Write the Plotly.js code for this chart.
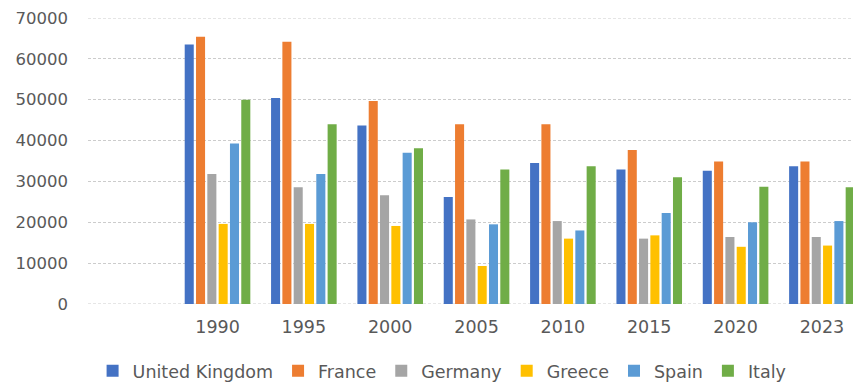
<!DOCTYPE html>
<html>
<head>
<meta charset="utf-8">
<script src="https://cdn.plot.ly/plotly-3.0.1.min.js"></script>
<style>
  html, body { margin: 0; padding: 0; background: #fff; overflow: hidden; }
  #chart { width: 853px; height: 384px; }
</style>
</head>
<body>
<div id="chart"></div>
<script>
// Years shown on the category axis
const years = ['1990', '1995', '2000', '2005', '2010', '2015', '2020', '2023'];

// Values per country, one entry per year
const unitedKingdom = [63500, 50400, 43700, 26200, 34500, 32900, 32600, 33700];
const france        = [65400, 64200, 49700, 44000, 44000, 37700, 34900, 34900];
const germany       = [31800, 28600, 26600, 20700, 20300, 16000, 16400, 16400];
const greece        = [19600, 19600, 19100,  9300, 16000, 16800, 14000, 14300];
const spain         = [39300, 31800, 37000, 19500, 18000, 22300, 20000, 20300];
const italy         = [50000, 44000, 38100, 32900, 33700, 31000, 28700, 28600];

// Y axis ticks
const yTicks = [0, 10000, 20000, 30000, 40000, 50000, 60000, 70000];

const series = [
  { name: 'United Kingdom', values: unitedKingdom, color: '#4472C4' },
  { name: 'France',         values: france,        color: '#ED7D31' },
  { name: 'Germany',        values: germany,       color: '#A5A5A5' },
  { name: 'Greece',         values: greece,        color: '#FFC000' },
  { name: 'Spain',          values: spain,         color: '#5B9BD5' },
  { name: 'Italy',          values: italy,         color: '#70AD47' }
];

const textColor = '#595959';
const fontFamily = 'DejaVu Sans, Verdana, sans-serif';
const gridColor = '#cccccc';
const gridDash = '3px,2px';

const traces = series.map(s => ({
  type: 'bar',
  name: s.name,
  x: years,
  y: s.values,
  marker: { color: s.color, line: { width: 0 } },
  hoverinfo: 'x+y+name'
}));

// Plotly skips grid lines that sit on the plot edges, so draw the
// bottom and top ones as shapes in the same dashed style.
const yMin = yTicks[0];
const yMax = yTicks[yTicks.length - 1];
const edgeLines = [yMin, yMax].map(v => ({
  type: 'line',
  xref: 'paper', x0: 0, x1: 1,
  yref: 'y', y0: v, y1: v,
  layer: 'below',
  line: { color: gridColor, width: 1, dash: gridDash }
}));

const layout = {
  width: 853,
  height: 384,
  margin: { l: 88, r: 0, t: 18, b: 80, autoexpand: false },
  paper_bgcolor: '#ffffff',
  plot_bgcolor: '#ffffff',
  barmode: 'group',
  bargap: 0.214,
  bargroupgap: 0.2,
  font: { family: fontFamily, color: textColor, size: 16 },
  showlegend: true,
  legend: {
    orientation: 'h',
    x: 0.006,
    xanchor: 'left',
    y: -0.234,
    yanchor: 'middle',
    font: { family: fontFamily, size: 17.5, color: textColor },
    bgcolor: 'rgba(0,0,0,0)'
  },
  shapes: edgeLines,
  xaxis: {
    type: 'category',
    categoryorder: 'array',
    categoryarray: years,
    range: [-1.5, 7.36],
    showgrid: false,
    zeroline: false,
    showline: false,
    ticks: '',
    ticklabelstandoff: 10,
    tickfont: { family: fontFamily, size: 17.5, color: textColor },
    fixedrange: true
  },
  yaxis: {
    range: [yMin, yMax],
    tickvals: yTicks,
    ticktext: yTicks.map(String),
    showgrid: true,
    gridcolor: gridColor,
    griddash: gridDash,
    gridwidth: 1,
    zeroline: false,
    showline: false,
    ticks: '',
    ticklabelstandoff: 19,
    tickfont: { family: fontFamily, size: 16.5, color: textColor },
    fixedrange: true
  }
};

Plotly.newPlot('chart', traces, layout, { displayModeBar: false, staticPlot: true });
</script>
</body>
</html>
